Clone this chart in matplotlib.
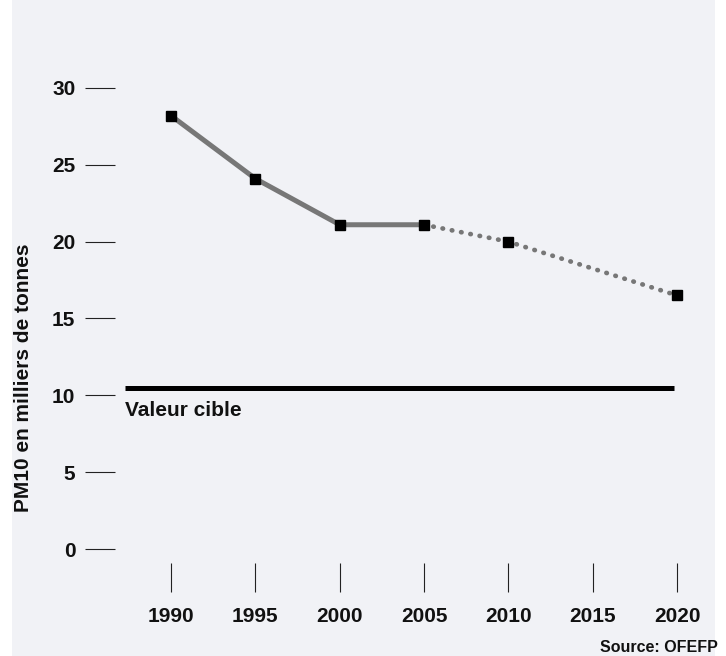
import matplotlib
matplotlib.use("Agg")
import matplotlib.pyplot as plt
from matplotlib.patches import Rectangle

# values (PM10, thousands of tonnes)
years_measured = [1990, 1995, 2000, 2005]
pm10_measured = [28.2, 24.1, 21.1, 21.1]
years_forecast = [2005, 2010, 2020]
pm10_forecast = [21.1, 20.0, 16.5]
target_value = 10.5
target_span = [1987.3, 2019.8]

x_ticks = [1990, 1995, 2000, 2005, 2010, 2015, 2020]
y_ticks = [0, 5, 10, 15, 20, 25, 30]

plt.rcParams['font.family'] = ['Liberation Sans', 'DejaVu Sans']
plt.rcParams['font.weight'] = 'bold'

fig = plt.figure(figsize=(7.26, 6.56), dpi=100)
fig.patch.set_facecolor('white')
# light grey panel behind everything
panel = Rectangle((12/726, 0), (715-12)/726, 1, transform=fig.transFigure,
                  facecolor='#f1f2f6', edgecolor='none', zorder=-10)
fig.add_artist(panel)

ax = fig.add_axes([115/726, 1-563/656, (700-115)/726, (563-60)/656])
ax.set_zorder(1)
ax.set_facecolor('none')
for s in ax.spines.values():
    s.set_visible(False)

line_col = '#777777'
ax.plot(years_measured, pm10_measured, color=line_col, lw=3.6, solid_capstyle='butt', zorder=2)
ax.plot(years_forecast, pm10_forecast, color=line_col, lw=3.4,
        linestyle=(0, (0.1, 1.9)), dash_capstyle='round', zorder=2)
all_years = years_measured + years_forecast[1:]
all_vals = pm10_measured + pm10_forecast[1:]
ax.plot(all_years, all_vals, ls='none', marker='s', ms=7, mfc='black', mec='black', zorder=3)

ax.plot(target_span, [target_value, target_value], color='black', lw=3.6, solid_capstyle='butt')
ax.text(target_span[0], target_value - 0.85, 'Valeur cible', fontsize=15, fontweight='bold',
        ha='left', va='top', color='#111111')

ax.set_xlim(1986.68, 2021.36)
ax.set_ylim(-0.91, 31.82)
ax.set_xticks(x_ticks)
ax.set_xticklabels([str(y) for y in x_ticks])
ax.set_yticks(y_ticks)
ax.set_yticklabels([str(v) for v in y_ticks])
ax.tick_params(axis='y', direction='out', length=21.6, width=0.8, color='#222222',
               pad=7, labelsize=15)
ax.tick_params(axis='x', direction='out', length=20.9, width=0.8, color='#222222',
               pad=11, labelsize=15)
for lab in ax.get_xticklabels() + ax.get_yticklabels():
    lab.set_fontweight('bold')
    lab.set_color('#111111')

fig.text(24/726, 1-378/656, 'PM10 en milliers de tonnes', rotation=90, fontsize=15,
         fontweight='bold', ha='center', va='center', color='#111111')
fig.text(718/726, 1-647/656, 'Source: OFEFP', fontsize=11.5, fontweight='bold',
         ha='right', va='center', color='#111111')

fig.savefig('out.png', dpi=100, facecolor=fig.get_facecolor())
